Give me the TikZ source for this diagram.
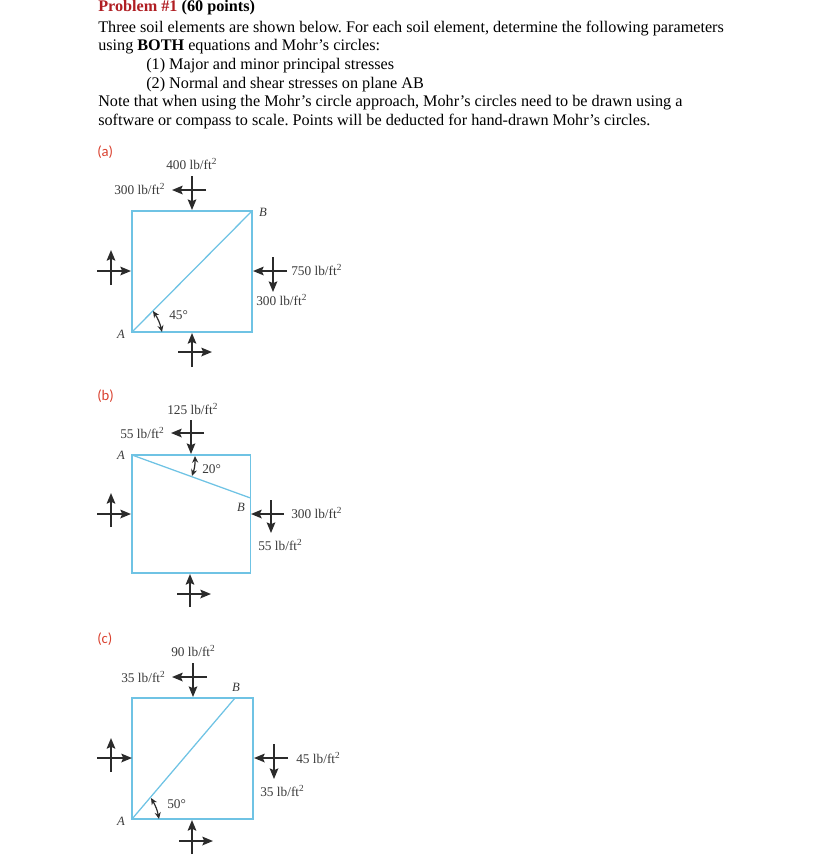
\documentclass[tikz,border=0pt]{standalone}
\usepackage{fontspec}
\setmainfont{Liberation Serif}
\newfontfamily\partfont{Carlito}
\usepackage{xcolor}
\usepackage{tikz}
\usetikzlibrary{
    calc,
    arrows.meta
}
\frenchspacing
\definecolor{sidecolor}{HTML}{6FC3E4}
\definecolor{titlecolor}{HTML}{B01E23}
\definecolor{partcolor}{HTML}{D9402E}
\definecolor{labelcolor}{HTML}{3A3A3A}
\definecolor{forcecolor}{HTML}{2B2B2B}
\tikzset{
    x=0.75pt, y=-0.75pt,
    body/.style={anchor=base west, inner sep=0pt, font=\fontsize{12.15}{14}\selectfont},
    part/.style={anchor=base west, inner sep=0pt, text=partcolor, font=\partfont\fontsize{11}{12}\selectfont},
    stress/.style={anchor=base west, inner sep=0pt, text=labelcolor, font=\fontsize{10}{12}\selectfont},
    corner/.style={anchor=base, inner sep=0pt, text=labelcolor, font=\fontsize{9.5}{12}\selectfont\itshape},
    side/.style={draw=sidecolor, line width=0.95pt},
    force/.style={draw=forcecolor, line width=1.3pt, -{Stealth[length=8pt,width=6.5pt,inset=1.5pt]}},
    angle/.style={draw=forcecolor, line width=0.9pt, {Stealth[length=5pt,width=4.5pt]}-{Stealth[length=5pt,width=4.5pt]}}
}
% name, centre x, centre y, horizontal tail/head x, vertical tail/head y
\newcommand{\stresscross}[7]{
    \coordinate (#1ht) at (#4,#3);
    \coordinate (#1hh) at (#5,#3);
    \coordinate (#1vt) at (#2,#6);
    \coordinate (#1vh) at (#2,#7);
    \draw[force] (#1ht) -- (#1hh);
    \draw[force] (#1vt) -- (#1vh);
}
% name, left, top, right, bottom
\newcommand{\soilsquare}[5]{
    \coordinate (#1tl) at (#2,#3);
    \coordinate (#1tr) at (#4,#3);
    \coordinate (#1br) at (#4,#5);
    \coordinate (#1bl) at (#2,#5);
    \draw[side] (#1tl) -- (#1tr) -- (#1br) -- (#1bl) -- cycle;
}
\begin{document}
\begin{tikzpicture}
    \useasboundingbox (0,0) rectangle (828,868);

    % problem text
    \node[body] (title) at (98,11) {\textcolor{titlecolor}{\textbf{Problem \#1}} \textbf{(60 points)}};
    \node[body] (line1) at (98,32) {Three soil elements are shown below. For each soil element, determine the following parameters};
    \node[body] (line2) at (98,50) {using \textbf{BOTH} equations and Mohr’s circles:};
    \node[body] (line3) at (146,69) {(1) Major and minor principal stresses};
    \node[body] (line4) at (146,88) {(2) Normal and shear stresses on plane AB};
    \node[body] (line5) at (98,106) {Note that when using the Mohr’s circle approach, Mohr’s circles need to be drawn using a};
    \node[body] (line6) at (98,125) {software or compass to scale. Points will be deducted for hand-drawn Mohr’s circles.};

    % element (a)
    \node[part] (parta) at (97,156) {(a)};
    \soilsquare{a}{132}{211}{252}{332}
    \draw[side] (abl) -- (atr);
    \stresscross{at}{192}{190}{206}{172}{176}{210}
    \stresscross{al}{111}{271}{97}{131}{285}{250}
    \stresscross{ar}{273}{271}{287}{253}{257}{292}
    \stresscross{ab}{192}{352}{178}{212}{367}{333}
    \coordinate (aa1) at (153,311);
    \coordinate (aa2) at (162,332);
    \draw[angle] (aa1) to[bend left=10] (aa2);
    \node[stress] (as1) at (166,169) {400 lb/ft\textsuperscript{2}};
    \node[stress] (as2) at (114,194) {300 lb/ft\textsuperscript{2}};
    \node[stress] (as3) at (291,275) {750 lb/ft\textsuperscript{2}};
    \node[stress] (as4) at (256,305) {300 lb/ft\textsuperscript{2}};
    \node[stress] (as5) at (169,319) {45°};
    \node[corner] (aA) at (121,338) {A};
    \node[corner] (aB) at (263,216) {B};

    % element (b)
    \node[part] (partb) at (97,400) {(b)};
    \soilsquare{b}{132}{455}{250.5}{573}
    \coordinate (bd) at (250.5,498);
    \draw[side] (btl) -- (bd);
    \stresscross{bt}{191}{433}{204}{171}{420}{454}
    \stresscross{bl}{111}{514}{97}{131}{527}{493}
    \stresscross{br}{271}{514}{284}{251}{500}{533}
    \stresscross{bb}{190}{594}{177}{211}{607}{574}
    \coordinate (ba1) at (195,456);
    \coordinate (ba2) at (192,476);
    \draw[angle] (ba1) to[bend left=10] (ba2);
    \node[stress] (bs1) at (167,414) {125 lb/ft\textsuperscript{2}};
    \node[stress] (bs2) at (120,438) {55 lb/ft\textsuperscript{2}};
    \node[stress] (bs3) at (291,518) {300 lb/ft\textsuperscript{2}};
    \node[stress] (bs4) at (258,550) {55 lb/ft\textsuperscript{2}};
    \node[stress] (bs5) at (202,473) {20°};
    \node[corner] (bA) at (121,459) {A};
    \node[corner] (bB) at (241,511) {B};

    % element (c)
    \node[part] (partc) at (97,643) {(c)};
    \soilsquare{c}{132}{698}{253}{819}
    \coordinate (cd) at (235,698);
    \draw[side] (cbl) -- (cd);
    \stresscross{ct}{193}{677}{207}{172}{663}{697}
    \stresscross{cl}{111}{758}{97}{132}{772}{738}
    \stresscross{cr}{274}{758}{288}{254}{744}{779}
    \stresscross{cb}{192}{841}{179}{213}{854}{820}
    \coordinate (ca1) at (151,798);
    \coordinate (ca2) at (159,819);
    \draw[angle] (ca1) to[bend left=10] (ca2);
    \node[stress] (cs1) at (171,656) {90 lb/ft\textsuperscript{2}};
    \node[stress] (cs2) at (121,682) {35 lb/ft\textsuperscript{2}};
    \node[stress] (cs3) at (296,763) {45 lb/ft\textsuperscript{2}};
    \node[stress] (cs4) at (260,796) {35 lb/ft\textsuperscript{2}};
    \node[stress] (cs5) at (167,808) {50°};
    \node[corner] (cA) at (121,825) {A};
    \node[corner] (cB) at (236,691) {B};
\end{tikzpicture}
\end{document}
